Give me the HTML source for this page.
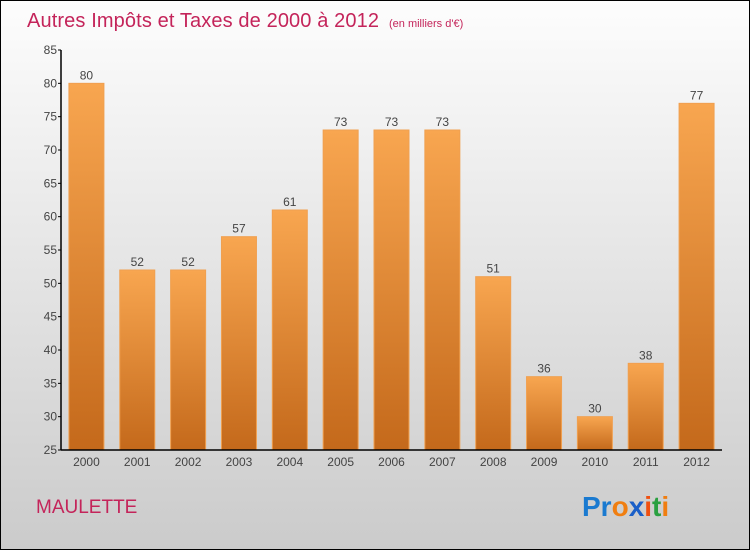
<!DOCTYPE html>
<html><head><meta charset="utf-8"><style>
html,body{margin:0;padding:0}
body{width:750px;height:550px;overflow:hidden;font-family:"Liberation Sans",sans-serif}
</style></head><body>
<svg width="750" height="550" xmlns="http://www.w3.org/2000/svg">
<defs>
<linearGradient id="bg" x1="0" y1="0" x2="0" y2="1"><stop offset="0" stop-color="#fdfdfd"/><stop offset="1" stop-color="#cbcbcb"/></linearGradient>
<linearGradient id="bar" x1="0" y1="0" x2="0" y2="1"><stop offset="0" stop-color="#f8a650"/><stop offset="1" stop-color="#c4691b"/></linearGradient>
</defs>
<rect x="0.5" y="0.5" width="749" height="549" fill="url(#bg)" stroke="#000"/>
<text x="27" y="27" font-size="20" fill="#c4245a" textLength="352">Autres Impôts et Taxes de 2000 à 2012</text>
<text x="389" y="27" font-size="11" fill="#c4245a">(en milliers d'€)</text>
<g id="plot"></g>
<text x="36" y="513" font-size="19" fill="#c4245a">MAULETTE</text>
<text x="582" y="516" font-size="28" font-weight="bold"><tspan fill="#1a7ad0">Pr</tspan><tspan fill="#f07e10">o</tspan><tspan fill="#1a5fc8">x</tspan><tspan fill="#f05010">i</tspan><tspan fill="#2aa040">t</tspan><tspan fill="#f07e10">i</tspan></text>
</svg>
<script>
const categories=["2000","2001","2002","2003","2004","2005","2006","2007","2008","2009","2010","2011","2012"];
const values=[80,52,52,57,61,73,73,73,51,36,30,38,77];
const yTicks=[25,30,35,40,45,50,55,60,65,70,75,80,85];
const NS="http://www.w3.org/2000/svg";
const g=document.getElementById('plot');
const x0=61,x1=722,yTop=50,yBot=450,vMin=25,vMax=85;
const band=(x1-x0)/categories.length;
const y=v=>yBot-(v-vMin)/(vMax-vMin)*(yBot-yTop);
const xc=i=>x0+band*(i+0.5);
function mk(t,a){const e=document.createElementNS(NS,t);for(const k in a)e.setAttribute(k,a[k]);g.appendChild(e);return e;}
values.forEach((v,i)=>{
 const r=mk('rect',{x:xc(i)-17.5,y:y(v),width:35,height:yBot-y(v),fill:'url(#bar)',stroke:'#f0a050','stroke-width':1});
 
 
 const t=mk('text',{x:xc(i),y:y(v)-4,'text-anchor':'middle','font-size':12,fill:'#444'});
 t.textContent=v;
 
 
 const xl=mk('text',{x:xc(i),y:466,'text-anchor':'middle','font-size':12,fill:'#444'});
 xl.textContent=categories[i];
 
 
});
yTicks.forEach(v=>{
 mk('line',{x1:x0-3,x2:x0,y1:y(v),y2:y(v),stroke:'#000'});
 const t=mk('text',{x:x0-4,y:y(v)+4,'text-anchor':'end','font-size':12,fill:'#444'});
 t.textContent=v;
 
 
});
const ya=mk('line',{x1:x0,x2:x0,y1:yTop,y2:yBot,stroke:'#000','stroke-width':1.5});


const xa=mk('line',{x1:x0,x2:x1,y1:yBot,y2:yBot,stroke:'#000','stroke-width':1.5});


</script>
</body></html>
